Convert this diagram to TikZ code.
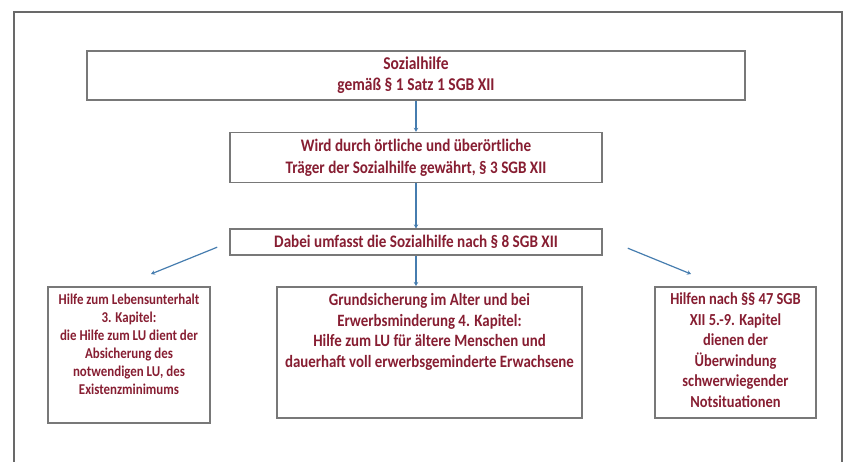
\documentclass[tikz,border=0pt]{standalone}
\usepackage{fontspec}
\setmainfont{Carlito}[FakeStretch=0.86]
\usetikzlibrary{arrows.meta, positioning}
\definecolor{sozred}{RGB}{135, 30, 50}
\definecolor{boxgray}{RGB}{120, 120, 120}
\definecolor{framegray}{RGB}{105, 105, 105}
\definecolor{arrblue}{RGB}{70, 125, 175}

\begin{document}
\begin{tikzpicture}[x=1pt, y=-1pt,
  box/.style={draw=boxgray, line width=1.6pt, fill=white, inner sep=3pt},
  txt/.style={text=sozred, font=\bfseries, align=center},
  arr/.style={-{Stealth[length=4pt, width=4.5pt]}, draw=arrblue, line width=1.2pt}]
  \useasboundingbox (0,0) rectangle (846,462);
  % outer frame, open at the bottom
  \draw[framegray, line width=1.8pt] (14,462) |- (842,12) -- (842,462);

  % chain at the top
  \node[box, txt, minimum width=658pt, minimum height=49pt,
        font=\bfseries\fontsize{18}{21}\selectfont] (sozial) at (416,75.5)
        {Sozialhilfe\\gemäß § 1 Satz 1 SGB XII};
  \node[box, txt, minimum width=372pt, minimum height=50pt, below=31pt of sozial,
        font=\bfseries\fontsize{17.6}{21.5}\selectfont] (traeger)
        {Wird durch örtliche und überörtliche\\Träger der Sozialhilfe gewährt, § 3 SGB XII};
  \node[box, txt, minimum width=372pt, minimum height=26pt, below=45pt of traeger,
        font=\bfseries\fontsize{17.6}{18}\selectfont] (umfasst)
        {Dabei umfasst die Sozialhilfe nach § 8 SGB XII};

  % the three kinds of help
  \node[box, minimum width=162pt, minimum height=136pt, anchor=north] (lu) at (129,286) {};
  \node[txt, anchor=north, inner sep=4pt, yshift=-4pt, font=\bfseries\fontsize{15}{18}\selectfont]
        (lutext) at (lu.north)
        {Hilfe zum Lebensunterhalt\\3. Kapitel:\\die Hilfe zum LU dient der\\Absicherung des\\notwendigen LU, des\\Existenzminimums};
  \node[box, minimum width=305pt, minimum height=131pt, anchor=north] (grund) at (429.5,286) {};
  \node[txt, anchor=north, inner sep=4pt, yshift=-3pt, font=\bfseries\fontsize{17.3}{20.7}\selectfont]
        (grundtext) at (grund.north)
        {Grundsicherung im Alter und bei\\Erwerbsminderung 4. Kapitel:\\Hilfe zum LU für ältere Menschen und\\dauerhaft voll erwerbsgeminderte Erwachsene};
  \node[box, minimum width=161pt, minimum height=131pt, anchor=north] (not) at (735.5,286) {};
  \node[txt, anchor=north, inner sep=4pt, yshift=-3pt, font=\bfseries\fontsize{16.8}{20.5}\selectfont]
        (nottext) at (not.north)
        {Hilfen nach §§ 47 SGB\\XII 5.-9. Kapitel\\dienen der\\Überwindung\\schwerwiegender\\Notsituationen};

  \draw[arr] (sozial) -- (traeger);
  \draw[arr] (traeger) -- (umfasst);
  \draw[arr] ([xshift=-12pt, yshift=-5pt]umfasst.west) -- ([xshift=22pt, yshift=12pt]lu.north);
  \draw[arr] (umfasst.south) -- (umfasst.south |- grund.north);
  \draw[arr] ([xshift=25pt, yshift=-6pt]umfasst.east) -- ([xshift=-44.5pt, yshift=12pt]not.north);
\end{tikzpicture}
\end{document}
